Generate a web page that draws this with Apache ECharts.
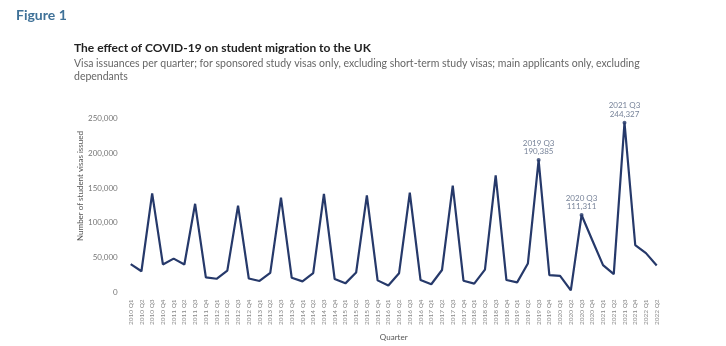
<!DOCTYPE html>
<html>
<head>
<meta charset="utf-8">
<script src="https://cdn.jsdelivr.net/npm/echarts@6/dist/echarts.min.js"></script>
<style>
html,body{margin:0;padding:0;background:#fff;}
#chart{width:726px;height:346px;}
</style>
</head>
<body>
<div id="chart"></div>
<script>
var quarters = [
  '2010 Q1','2010 Q2','2010 Q3','2010 Q4',
  '2011 Q1','2011 Q2','2011 Q3','2011 Q4',
  '2012 Q1','2012 Q2','2012 Q3','2012 Q4',
  '2013 Q1','2013 Q2','2013 Q3','2013 Q4',
  '2014 Q1','2014 Q2','2014 Q3','2014 Q4',
  '2015 Q1','2015 Q2','2015 Q3','2015 Q4',
  '2016 Q1','2016 Q2','2016 Q3','2016 Q4',
  '2017 Q1','2017 Q2','2017 Q3','2017 Q4',
  '2018 Q1','2018 Q2','2018 Q3','2018 Q4',
  '2019 Q1','2019 Q2','2019 Q3','2019 Q4',
  '2020 Q1','2020 Q2','2020 Q3','2020 Q4',
  '2021 Q1','2021 Q2','2021 Q3','2021 Q4',
  '2022 Q1','2022 Q2'
];
var visas = [
  40600, 30400, 142500, 40200,
  48600, 40200, 127500, 21500,
  19600, 31300, 124800, 20000,
  16400, 28000, 136400, 21000,
  15900, 27600, 141600, 19200,
  13000, 28500, 139700, 17300,
  9800, 27600, 143400, 17800,
  11700, 32200, 153700, 16800,
  12600, 32700, 168600, 17800,
  14400, 41600, 190385, 24800,
  23800, 3000, 111311, 75000,
  39200, 26200, 244327, 68200,
  56500, 38800
];
var annotated = ['2019 Q3', '2020 Q3', '2021 Q3'];
var yTicks = [0, 50000, 100000, 150000, 200000, 250000];

var FONT = 'Lato, "Open Sans", sans-serif';
var annData = annotated.map(function (q) {
  return [q, visas[quarters.indexOf(q)]];
});

var chart = echarts.init(document.getElementById('chart'));
chart.setOption({
  animation: false,
  backgroundColor: '#ffffff',
  textStyle: { fontFamily: FONT },
  title: [
    { text: 'Figure 1', left: 11, top: 3,
      textStyle: { fontFamily: FONT, fontSize: 14, fontWeight: 'bold', color: '#3f7198' } },
    { text: 'The effect of COVID-19 on student migration to the UK', left: 69, top: 37,
      textStyle: { fontFamily: FONT, fontSize: 12, fontWeight: 'bold', color: '#222' },
      subtext: 'Visa issuances per quarter; for sponsored study visas only, excluding short-term study visas; main applicants only, excluding\ndependants',
      subtextStyle: { fontFamily: FONT, fontSize: 10.5, color: '#666', lineHeight: 13 },
      itemGap: 3 }
  ],
  graphic: [
    { type: 'text', x: 80, y: 186, rotation: Math.PI / 2,
      style: { text: 'Number of student visas issued', fontFamily: FONT, fontSize: 8, fill: '#555',
               align: 'center', verticalAlign: 'middle' } }
  ],
  grid: { left: 130.7, right: 69.3, top: 118.7, bottom: 49, containLabel: false },
  xAxis: {
    type: 'category',
    data: quarters,
    boundaryGap: false,
    name: 'Quarter',
    nameLocation: 'middle',
    nameGap: 38,
    nameTextStyle: { fontFamily: FONT, fontSize: 8, color: '#555' },
    axisLine: { show: false },
    axisTick: { show: false },
    splitLine: { show: false },
    axisLabel: { rotate: 90, interval: 0, fontSize: 6.5, color: '#888', margin: 7, fontFamily: FONT }
  },
  yAxis: {
    type: 'value',
    min: 0,
    max: 250000,
    interval: 50000,
    axisLine: { show: false },
    axisTick: { show: false },
    splitLine: { show: false },
    axisLabel: {
      fontSize: 8, color: '#777', margin: 13, fontFamily: FONT,
      formatter: function (v) { return yTicks.indexOf(v) >= 0 ? v.toLocaleString('en-GB') : ''; }
    }
  },
  series: [
    {
      type: 'line',
      data: visas,
      showSymbol: false,
      symbol: 'none',
      lineStyle: { color: '#26396a', width: 2.2 },
      itemStyle: { color: '#26396a' }
    },
    {
      type: 'scatter',
      data: annData,
      symbol: 'circle',
      symbolSize: 4,
      itemStyle: { color: '#26396a' },
      label: {
        show: true,
        position: 'top',
        distance: 2,
        fontFamily: FONT,
        fontSize: 8,
        lineHeight: 8.5,
        color: '#55647f',
        formatter: function (p) { return p.value[0] + '\n' + p.value[1].toLocaleString('en-GB'); }
      }
    }
  ]
});
</script>
</body>
</html>
